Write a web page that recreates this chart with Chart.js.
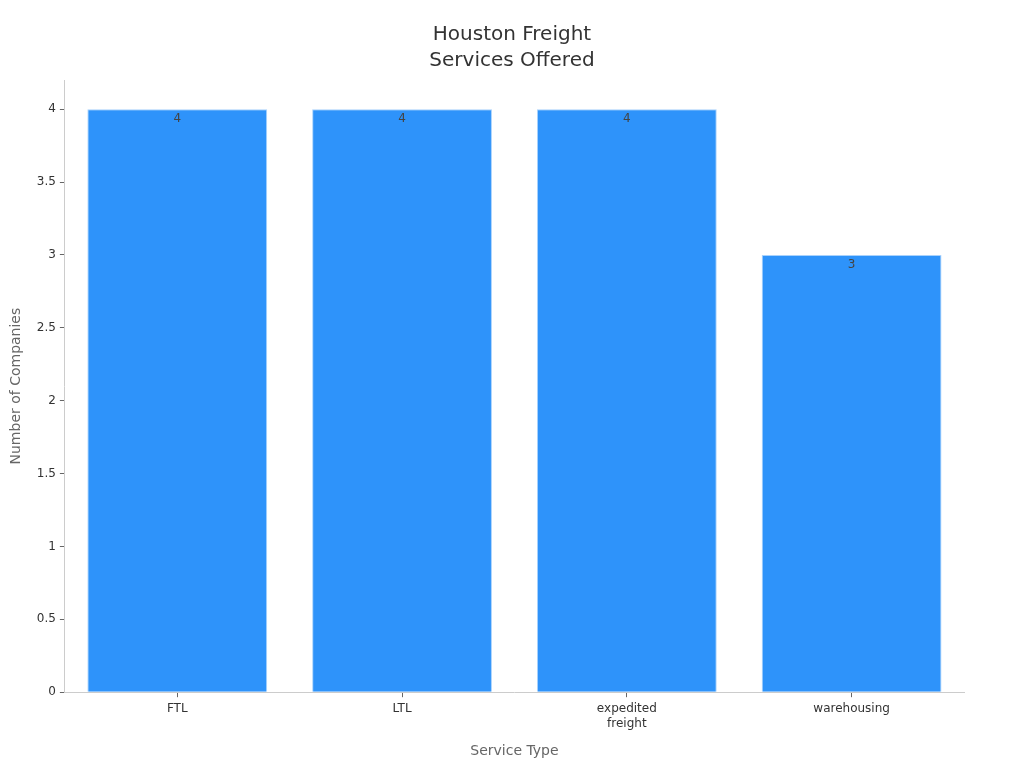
<!DOCTYPE html>
<html>
<head>
<meta charset="utf-8">
<script src="https://cdn.jsdelivr.net/npm/chart.js@4/dist/chart.umd.min.js"></script>
<style>
    html, body { margin: 0; padding: 0; background: #fff; }
    #wrap { width: 1024px; height: 768px; }
</style>
</head>
<body>
<div id="wrap"><canvas id="chart"></canvas></div>
<script>
// chart data
var categories = ['FTL', 'LTL', ['expedited', 'freight'], 'warehousing'];
var companyCounts = [4, 4, 4, 3];
var yTicks = [0, 0.5, 1, 1.5, 2, 2.5, 3, 3.5, 4];

Chart.defaults.font.family = 'DejaVu Sans, sans-serif';
Chart.defaults.color = '#333';

// draws the value just inside the top of each bar
var barLabels = {
    id: 'barLabels',
    afterDatasetsDraw: function(chart) {
        var ctx = chart.ctx;
        var meta = chart.getDatasetMeta(0);
        ctx.save();
        ctx.font = '12px DejaVu Sans, sans-serif';
        ctx.fillStyle = '#444';
        ctx.textAlign = 'center';
        ctx.textBaseline = 'middle';
        meta.data.forEach(function(bar, i) {
            ctx.fillText(String(companyCounts[i]), bar.x, bar.y + 10);
        });
        ctx.restore();
    }
};

// keep the title centred on the whole canvas, not the padded box
var centreTitle = {
    id: 'centreTitle',
    afterLayout: function(chart) {
        var t = chart.titleBlock;
        if (t) {
            t.left = 0;
            t.right = chart.width;
            t.width = chart.width;
        }
    }
};

new Chart(document.getElementById('chart'), {
    type: 'bar',
    data: {
        labels: categories,
        datasets: [{
            label: 'Number of Companies',
            data: companyCounts,
            backgroundColor: '#2E93FA',
            borderColor: '#A9D2FC',
            borderWidth: 1,
            barPercentage: 0.8,
            categoryPercentage: 1
        }]
    },
    options: {
        responsive: true,
        maintainAspectRatio: false,
        animation: false,
        layout: { padding: { top: 10, right: 60, left: 4, bottom: 4 } },
        plugins: {
            legend: { display: false },
            tooltip: { enabled: false },
            title: {
                display: true,
                text: ['Houston Freight', 'Services Offered'],
                color: '#333',
                font: { size: 20, weight: 'normal', lineHeight: 1.3 },
                padding: { top: 12, bottom: 6 }
            }
        },
        scales: {
            x: {
                border: { color: '#ccc' },
                grid: { display: true, drawOnChartArea: false, offset: false, tickLength: 5, color: '#666' },
                ticks: { font: { size: 12, lineHeight: 1.25 }, color: '#333', padding: 4 },
                title: {
                    display: true,
                    text: 'Service Type',
                    color: '#666',
                    font: { size: 14 },
                    padding: { top: 8 }
                }
            },
            y: {
                min: 0,
                max: 4.2,
                border: { color: '#ccc' },
                grid: { display: true, drawOnChartArea: false, tickLength: 5, color: '#666' },
                afterBuildTicks: function(axis) {
                    axis.ticks = yTicks.map(function(v) { return { value: v }; });
                },
                ticks: {
                    font: { size: 12 },
                    color: '#333',
                    padding: 4,
                    callback: function(v) { return String(v); }
                },
                title: {
                    display: true,
                    text: 'Number of Companies',
                    color: '#666',
                    font: { size: 14 },
                    padding: { bottom: 8 }
                }
            }
        }
    },
    plugins: [barLabels, centreTitle]
});
</script>
</body>
</html>
